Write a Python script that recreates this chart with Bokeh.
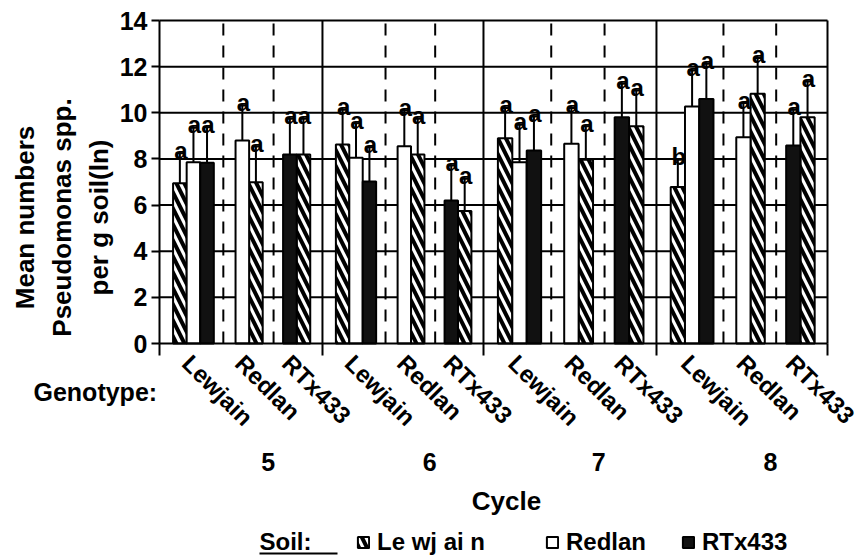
import math
from bokeh.plotting import figure
from bokeh.models import (Range1d, FixedTicker, ColumnDataSource, Label, Legend, LegendItem)
from bokeh.core.properties import value
from bokeh.embed import file_html
from bokeh.resources import INLINE

# ---------------- data ----------------
cycles = ["5", "6", "7", "8"]
genotypes = ["Lewjain", "Redlan", "RTx433"]
soils = ["Lewjain", "Redlan", "RTx433"]
soil_legend = ["Le wj ai n", "Redlan", "RTx433"]
# soil of each bar, in the order drawn inside each genotype group
group_soils = [["Lewjain", "Redlan", "RTx433"], ["Redlan", "Lewjain"], ["RTx433", "Lewjain"]]

mean_c5 = [6.95, 7.86, 7.83, 8.80, 6.99, 8.19, 8.19]
err_c5 = [1.30, 1.49, 1.54, 1.52, 1.55, 1.55, 1.55]
sig_c5 = ["a", "a", "a", "a", "a", "a", "a"]

mean_c6 = [8.63, 8.05, 7.02, 8.55, 8.19, 6.20, 5.74]
err_c6 = [1.50, 1.50, 1.49, 1.55, 1.55, 1.52, 1.40]
sig_c6 = ["a", "a", "a", "a", "a", "a", "a"]

mean_c7 = [8.90, 7.86, 8.37, 8.66, 7.96, 9.81, 9.42]
err_c7 = [1.31, 1.62, 1.47, 1.55, 1.46, 1.45, 1.55]
sig_c7 = ["a", "a", "a", "a", "a", "a", "a"]

mean_c8 = [6.78, 10.27, 10.60, 8.94, 10.82, 8.58, 9.81]
err_c8 = [1.18, 1.56, 1.52, 1.48, 1.56, 1.55, 1.55]
sig_c8 = ["b", "a", "a", "a", "a", "a", "a"]

y_ticks = [0, 2, 4, 6, 8, 10, 12, 14]

means = [mean_c5, mean_c6, mean_c7, mean_c8]
errs = [err_c5, err_c6, err_c7, err_c8]
sigs = [sig_c5, sig_c6, sig_c7, sig_c8]

# ---------------- layout (positions, not data) ----------------
FONT = "Liberation Sans"
W, H = 864, 559
cycle_edges = [0, 11.71, 23.28, 35.71, 48]               # x units along the axis
slot_left = [[1.0, 2.0, 3.0], [5.6, 6.6], [9.1, 10.1]]   # per genotype, in 1/12 of a cycle
dividers = [4.7, 8.4]
label_anchor = [2.7, 6.6, 10.05]
BAR_W = 1.0
X_MAX, Y_MAX = 48, 14

# the plot area (x 0..48, y 0..14) sits at canvas px x 159..827, y 20..343
X0, XS = 159, 668 / 48
Y0, YS = 343, 323 / 14

def rx(px):  # canvas pixel -> x units
    return (px - X0) / XS

def ry(py):  # canvas pixel -> y units
    return (Y0 - py) / YS

p = figure(width=W, height=H, output_backend="svg", toolbar_location=None, title=None,
           x_range=Range1d(-X0 / XS, (W - X0) / XS), y_range=Range1d((Y0 - H) / YS, Y0 / YS),
           min_border_left=0, min_border_right=0, min_border_top=0, min_border_bottom=0)
p.background_fill_color = "white"
p.border_fill_color = "white"
p.outline_line_color = None
p.grid.visible = False

# axes, fixed at the origin of the plot area
p.yaxis.fixed_location = 0
p.yaxis.bounds = (0, Y_MAX)
p.yaxis.ticker = FixedTicker(ticks=y_ticks)
p.yaxis.major_label_text_font = FONT
p.yaxis.major_label_text_font_style = "bold"
p.yaxis.major_label_text_font_size = "25px"
p.yaxis.major_label_text_color = "black"
p.yaxis.major_label_standoff = 4
p.yaxis.axis_line_width = 2
p.yaxis.axis_line_color = "black"
p.yaxis.major_tick_line_width = 2
p.yaxis.major_tick_line_color = "black"
p.yaxis.major_tick_out = 8
p.yaxis.major_tick_in = 0
p.yaxis.minor_tick_line_color = None

p.xaxis.fixed_location = 0
p.xaxis.bounds = (0, X_MAX)
p.xaxis.ticker = FixedTicker(ticks=cycle_edges)
p.xaxis.major_label_overrides = {t: "" for t in cycle_edges}
p.xaxis.axis_line_width = 2
p.xaxis.axis_line_color = "black"
p.xaxis.major_tick_line_width = 2
p.xaxis.major_tick_line_color = "black"
p.xaxis.major_tick_out = 12
p.xaxis.major_tick_in = 0
p.xaxis.minor_tick_line_color = None

# horizontal grid lines and the box outline
gy = y_ticks[1:]
p.segment(x0=[0] * len(gy), y0=gy, x1=[X_MAX] * len(gy), y1=gy, line_color="black", line_width=2)
p.segment(x0=[X_MAX], y0=[0], x1=[X_MAX], y1=[Y_MAX], line_color="black", line_width=2)

# vertical separators
sx, dx = [], []
for c in range(len(cycles)):
    e0, e1 = cycle_edges[c], cycle_edges[c + 1]
    u = (e1 - e0) / 12
    if c > 0:
        sx.append(e0)
    for d in dividers:
        dx.append(e0 + d * u)
p.segment(x0=sx, y0=[Y_MAX] * len(sx), x1=sx, y1=[0] * len(sx), line_color="black", line_width=2)
p.segment(x0=dx, y0=[Y_MAX] * len(dx), x1=dx, y1=[0] * len(dx), line_color="black",
          line_width=2, line_dash="12 10", line_dash_offset=-3)

# bars
bars = {s: dict(x=[], w=[], top=[]) for s in soils}
ex, etop, ebase, etxt = [], [], [], []
for c in range(len(cycles)):
    e0, e1 = cycle_edges[c], cycle_edges[c + 1]
    u = (e1 - e0) / 12
    k = 0
    for g in range(len(genotypes)):
        for j, s in enumerate(group_soils[g]):
            xc = e0 + (slot_left[g][j] + BAR_W / 2) * u
            m = means[c][k]
            bars[s]["x"].append(xc)
            bars[s]["w"].append(BAR_W * u)
            bars[s]["top"].append(m)
            ex.append(xc)
            ebase.append(m)
            etop.append(m + errs[c][k])
            etxt.append(sigs[c][k])
            k += 1

styles = {
    "Lewjain": dict(fill_color="white", hatch_pattern="\\", hatch_color="black",
                    hatch_weight=4, hatch_scale=16),
    "Redlan": dict(fill_color="white"),
    "RTx433": dict(fill_color="#111111"),
}
renderers = {}
for s in soils:
    src = ColumnDataSource(bars[s])
    renderers[s] = p.vbar(x="x", width="w", top="top", bottom=0, source=src,
                          line_color="black", line_width=2, **styles[s])

# error bars and letters
p.segment(x0=ex, y0=ebase, x1=ex, y1=etop, line_color="black", line_width=2)
p.scatter(x=ex, y=etop, marker="dash", size=8, line_color="black", line_width=2)
p.text(x=ex, y=etop, text=etxt, text_align="center", text_baseline="alphabetic",
       y_offset=-3, x_offset=1, text_font=value(FONT), text_font_style="bold",
       text_font_size="24px", text_color="black")

def lab(x, y, t, size="25px", align="left", baseline="middle", angle=0.0):
    p.add_layout(Label(x=x, y=y, text=t, text_font=FONT, text_font_style="bold",
                       text_font_size=size, text_align=align, text_baseline=baseline,
                       angle=angle, text_color="black"))

# y-axis title (three lines)
for t, cx in zip(["Mean numbers", "Pseudomonas spp.", "per g soil(ln)"], [24, 61, 98]):
    lab(rx(cx), ry(217), t, size="26px", align="center", angle=math.pi / 2)

# genotype labels, cycle labels
lab(rx(33), ry(391), "Genotype:")
for c in range(len(cycles)):
    e0, e1 = cycle_edges[c], cycle_edges[c + 1]
    u = (e1 - e0) / 12
    for g in range(len(genotypes)):
        lab(e0 + label_anchor[g] * u, ry(349), genotypes[g], size="24px",
            baseline="top", angle=-math.pi / 4)
    lab((e0 + e1) / 2 + 2.0 * u, ry(461), cycles[c], align="center")

lab(rx(506), ry(500), "Cycle", size="26px", align="center")

# legend
lab(rx(259), ry(541), "Soil:", size="24px")
p.segment(x0=[rx(259)], y0=[ry(553)], x1=[rx(337)], y1=[ry(553)], line_color="black", line_width=2)
leg_x = [356, 545, 681]
for s, lbl, lx in zip(soils, soil_legend, leg_x):
    leg = Legend(items=[LegendItem(label=value(lbl), renderers=[renderers[s]])],
                 location=(lx, H - 556), orientation="horizontal",
                 glyph_width=14, glyph_height=14, label_standoff=7, padding=0, margin=0,
                 border_line_alpha=0, background_fill_alpha=0,
                 label_text_font=FONT, label_text_font_style="bold",
                 label_text_font_size="24px", label_text_color="black")
    p.add_layout(leg)

open("out.html", "w").write(file_html(p, INLINE))
